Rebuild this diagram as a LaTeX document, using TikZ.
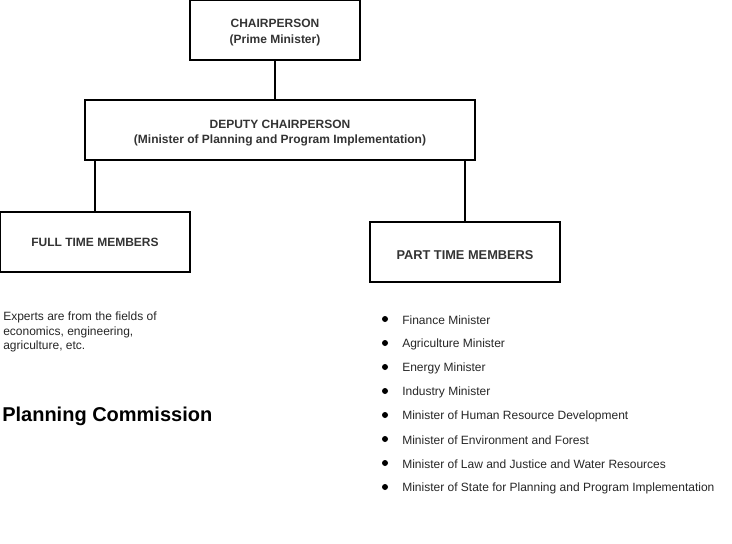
\documentclass[tikz,border=0pt]{standalone}
\usepackage{fontspec}
\setmainfont{Liberation Sans}
\begin{document}
\begin{tikzpicture}[x=0.75pt,y=-0.75pt,
  box/.style={draw=black,line width=0.8pt,rectangle,align=center,inner sep=0pt,text=black!80,font=\bfseries\fontsize{9}{11}\selectfont},
  txt/.style={font=\fontsize{9}{11}\selectfont,text=black!85},
  item/.style={txt,anchor=west,inner sep=0pt},
  conn/.style={draw=black,line width=1.2pt},
  dot/.style={circle,fill=black,inner sep=0pt,minimum size=4.5pt}]
\useasboundingbox (0,0) rectangle (732,543);
\node[box,minimum width=170*0.75pt,minimum height=60*0.75pt] (chair) at (275,30) {\rule{0pt}{10pt}CHAIRPERSON\\[0.5pt](Prime Minister)};
\node[box,minimum width=390*0.75pt,minimum height=60*0.75pt] (deputy) at (280,130) {\rule{0pt}{10.8pt}DEPUTY CHAIRPERSON\\[0.3pt](Minister of Planning and Program Implementation)};
\node[box,minimum width=190*0.75pt,minimum height=60*0.75pt] (full) at (95,242) {FULL TIME MEMBERS};
\node[box,minimum width=190*0.75pt,minimum height=60*0.75pt,font=\bfseries\fontsize{9.6}{11}\selectfont] (part) at (465,252) {\rule{0pt}{11.5pt}PART TIME MEMBERS};
\draw[conn] (chair.south) -- (chair.south |- deputy.north);
\draw[conn] (full.north |- deputy.south) -- (full.north);
\draw[conn] (part.north |- deputy.south) -- (part.north);
\node[txt,anchor=north west,align=left,inner sep=0pt,font=\fontsize{9}{10.9}\selectfont] (experts) at (3,311.5) {Experts are from the fields of\\economics, engineering,\\agriculture, etc.};
\node[anchor=west,inner sep=0pt,font=\bfseries\fontsize{15}{18}\selectfont,text=black] (title) at (2,416) {Planning Commission};
\foreach \t [count=\i from 0] in {Finance Minister,Agriculture Minister,Energy Minister,Industry Minister,Minister of Human Resource Development,Minister of Environment and Forest,Minister of Law and Justice and Water Resources,Minister of State for Planning and Program Implementation}{
  \node[dot] (b\i) at (385,{319+24*\i}) {};
  \node[item] (t\i) at (402,{320.5+24*\i}) {\t};
}
\end{tikzpicture}
\end{document}
